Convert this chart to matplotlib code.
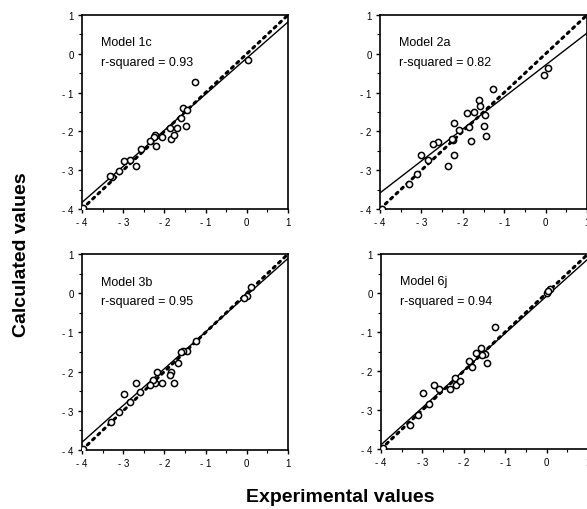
import matplotlib
matplotlib.use("Agg")
import matplotlib.pyplot as plt
import numpy as np
from matplotlib.ticker import MultipleLocator, FixedLocator, FixedFormatter

# Panel titles and r-squared
models = ["Model 1c", "Model 2a", "Model 3b", "Model 6j"]
r_squared = ["0.93", "0.82", "0.95", "0.94"]

# Experimental (x) / calculated (y) values
exp_1c = [0.02, -1.25, -1.55, -1.45, -1.47, -1.6, -1.7, -1.87, -1.83, -1.77, -2.07, -2.2, -2.22, -2.25,
          -2.34, -2.58, -2.7, -2.83, -2.97, -3.1, -3.26, -3.32, -3.97]
calc_1c = [-0.15, -0.72, -1.4, -1.45, -1.85, -1.65, -1.92, -1.92, -2.2, -2.08, -2.15, -2.38, -2.1, -2.15,
           -2.25, -2.45, -2.88, -2.74, -2.75, -3.02, -3.18, -3.16, -3.98]

exp_2a = [-0.03, 0.07, -1.26, -1.6, -1.58, -1.73, -1.9, -1.46, -1.5, -1.44, -1.86, -1.81, -2.1, -2.21,
          -2.23, -2.27, -2.21, -2.59, -2.71, -3.0, -2.83, -2.36, -3.11, -3.29, -3.96]
calc_2a = [-0.54, -0.37, -0.91, -1.19, -1.34, -1.5, -1.53, -1.59, -1.85, -2.11, -1.89, -2.24, -1.96, -1.79,
           -2.22, -2.2, -2.6, -2.28, -2.32, -2.62, -2.73, -2.9, -3.1, -3.35, -4.0]

exp_3b = [0.1, 0.0, -0.08, -1.24, -1.46, -1.54, -1.59, -1.68, -1.77, -1.85, -1.87, -2.18, -2.07, -2.24,
          -2.28, -2.36, -2.7, -2.59, -2.99, -2.83, -3.09, -3.29, -3.97]
calc_3b = [0.15, -0.08, -0.12, -1.21, -1.47, -1.48, -1.49, -1.78, -2.29, -2.02, -2.09, -2.02, -2.29, -2.29,
           -2.21, -2.33, -2.29, -2.51, -2.58, -2.78, -3.04, -3.29, -3.97]

exp_6j = [0.08, 0.0, 0.03, -1.24, -1.59, -1.48, -1.55, -1.45, -1.7, -1.88, -1.79, -2.22, -2.2, -2.08,
          -2.34, -2.71, -2.6, -2.99, -2.84, -3.1, -3.3, -3.96]
calc_6j = [0.1, 0.01, 0.05, -0.87, -1.4, -1.56, -1.6, -1.79, -1.55, -1.75, -1.9, -2.17, -2.36, -2.25,
           -2.46, -2.37, -2.47, -2.56, -2.84, -3.13, -3.38, -3.97]

exp_sets = [exp_1c, exp_2a, exp_3b, exp_6j]
calc_sets = [calc_1c, calc_2a, calc_3b, calc_6j]

# Regression lines (slope, intercept) as drawn
slopes = [0.93, 0.824, 0.938, 0.953]
intercepts = [-0.11, -0.29, -0.05, -0.08]

tick_vals = [-4, -3, -2, -1, 0, 1]
tick_text = ["- 4", "- 3", "- 2", "- 1", "0", "1"]

plt.rcParams["font.family"] = ["Liberation Sans", "DejaVu Sans"]

fig = plt.figure(figsize=(5.87, 5.10), dpi=100)
W, H = 587, 510

# axes boxes in pixels: left, top, width, height
boxes = [(82, 16, 206, 194), (380, 16, 207, 194), (82, 255, 206, 196), (381, 255, 207, 195)]

for i, (l, t, w, h) in enumerate(boxes):
    ax = fig.add_axes([l / W, 1 - (t + h) / H, w / W, h / H])
    line_x = np.array([-4, 1])
    ax.plot(line_x, line_x, color="black", lw=2.2, linestyle=(0, (0.8, 1.6)), dash_capstyle="round")
    ax.plot(line_x, slopes[i] * line_x + intercepts[i], color="black", lw=1.0)
    ax.scatter(exp_sets[i], calc_sets[i], s=20, facecolors="white", edgecolors="black",
               linewidths=1.1, zorder=3)
    ax.set_xlim(-4, 1)
    ax.set_ylim(-4, 1)
    for axis in (ax.xaxis, ax.yaxis):
        axis.set_major_locator(FixedLocator(tick_vals))
        axis.set_major_formatter(FixedFormatter(tick_text))
        axis.set_minor_locator(MultipleLocator(0.5))
    ax.tick_params(which="major", direction="out", length=3, width=1, labelsize=7, pad=3)
    ax.tick_params(which="minor", direction="out", length=2, width=0.8)
    for sp in ax.spines.values():
        sp.set_linewidth(1.2)
    ax.text(0.09, 0.89, models[i], transform=ax.transAxes, fontsize=9, va="top")
    ax.text(0.09, 0.79, "r-squared = " + r_squared[i], transform=ax.transAxes, fontsize=9, va="top")

fig.text(22 / W, 1 - 255 / H, "Calculated values", rotation=90, fontsize=14, fontweight="bold",
         ha="center", va="center")
fig.text(340 / W, 1 - 498 / H, "Experimental values", fontsize=14, fontweight="bold",
         ha="center", va="center")

plt.savefig("out.png", dpi=100, facecolor="white")
plt.close()
